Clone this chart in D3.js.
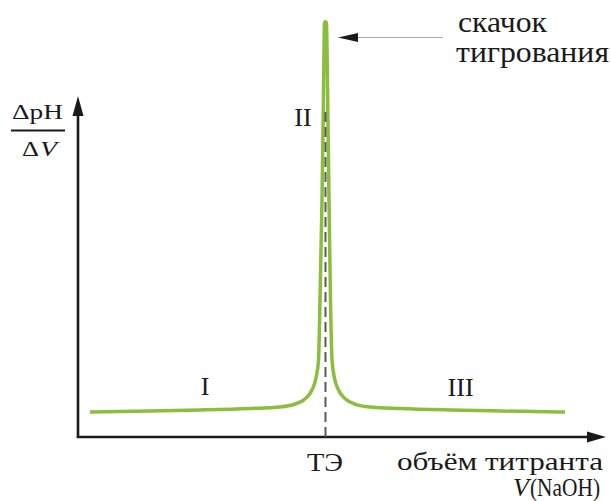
<!DOCTYPE html>
<html><head><meta charset="utf-8">
<script src="https://cdn.jsdelivr.net/npm/d3@7"></script>
<style>
html,body{margin:0;padding:0;background:#fff;}
svg{display:block;}
text{font-family:"Liberation Serif","Times New Roman",serif;fill:#1a1a1a;}
</style></head>
<body>
<svg id="c" width="611" height="501"></svg>
<script>
// titrant volume (arbitrary units) and ΔpH/ΔV (arbitrary units)
const volume = [2.28, 13.66, 23.15, 32.64, 38.33, 41.18, 43.07, 44.40, 45.16, 45.64, 45.92, 46.30, 46.57, 46.77, 46.96,
                47.15, 47.38, 47.63, 47.91, 48.20, 48.67, 49.43, 50.76, 52.56, 55.41, 61.10, 70.59, 80.08, 92.41];
const dpHdV  = [6.02, 6.27, 6.51, 6.87, 7.23, 7.95, 9.16, 11.33, 14.22, 18.55, 33.01, 57.11, 81.20, 99.76, 100.12,
                99.76, 81.20, 57.11, 33.01, 18.55, 14.22, 11.33, 9.16, 7.95, 7.23, 6.87, 6.51, 6.27, 6.02];
const equivalencePoint = 46.96;
const regionLabels = ["I", "II", "III"];
const regionX = [24.1, 42.7, 72.6];
const regionY = [10.1, 75.0, 9.9];
const yLabelTop = "ΔpH";
const yLabelBottom = ["Δ", "V"];
const xLabel1 = "объём титранта";
const xLabel2 = ["V", "(NaOH)"];
const epLabel = "ТЭ";
const jumpLabel = ["скачок", "тигрования"];

const svg = d3.select("#c");
const x = d3.scaleLinear().domain([0, 100]).range([78, 605]);
const y = d3.scaleLinear().domain([0, 100]).range([437, 22]);

// axes
const axisColor = "#1a1a1a";
svg.append("line").attr("x1", x(0) - 1.3).attr("x2", 592).attr("y1", y(0)).attr("y2", y(0))
  .attr("stroke", axisColor).attr("stroke-width", 2.6);
svg.append("path").attr("d", `M606,${y(0)} L587,${y(0)-5.5} L587,${y(0)+5.5} Z`).attr("fill", axisColor);
svg.append("line").attr("x1", x(0)).attr("x2", x(0)).attr("y1", y(0)).attr("y2", 110)
  .attr("stroke", axisColor).attr("stroke-width", 2.6);
svg.append("path").attr("d", `M${x(0)},96 L${x(0)-5.5},116 L${x(0)+5.5},116 Z`).attr("fill", axisColor);

// curve
const line = d3.line().x((d, i) => x(volume[i])).y(d => y(d)).curve(d3.curveMonotoneX);
svg.append("path").attr("d", line(dpHdV)).attr("fill", "none")
  .attr("stroke", "#8cbd3f").attr("stroke-width", 3.5).attr("stroke-linejoin", "round").attr("stroke-linecap", "butt");

// dashed equivalence line
svg.append("line").attr("x1", x(equivalencePoint)).attr("x2", x(equivalencePoint))
  .attr("y1", 112).attr("y2", y(0))
  .attr("stroke", "#5a5a5a").attr("stroke-width", 2).attr("stroke-dasharray", "10,5");

// annotation arrow
svg.append("line").attr("x1", 354).attr("x2", 443).attr("y1", 37.5).attr("y2", 37.5)
  .attr("stroke", "#aaa").attr("stroke-width", 1.2);
svg.append("path").attr("d", "M338,37.5 L358,33 L358,42 Z").attr("fill", "#1a1a1a");

function label(txt, px, py, size, len, anchor) {
  return svg.append("text").attr("x", px).attr("y", py).attr("font-size", size)
    .attr("text-anchor", anchor || "start")
    .attr("textLength", len).attr("lengthAdjust", "spacingAndGlyphs").text(txt);
}

label(jumpLabel[0], 458, 32, 29, 89);
label(jumpLabel[1], 456, 62, 29, 153);

regionLabels.forEach((t, i) => {
  svg.append("text").attr("x", x(regionX[i])).attr("y", y(regionY[i])).attr("font-size", 26)
    .attr("text-anchor", "middle").text(t);
});

label(yLabelTop, 12, 119, 22, 51);
svg.append("line").attr("x1", 11).attr("x2", 65).attr("y1", 130.5).attr("y2", 130.5).attr("stroke", "#1a1a1a").attr("stroke-width", 2);
label(yLabelBottom[0], 22, 156, 22, 17);
label(yLabelBottom[1], 40, 156, 22, 17).attr("font-style", "italic");

label(epLabel, 307, 471, 25, 36);
label(xLabel1, 397, 470, 26, 206);
label(xLabel2[0], 513, 496, 25, 16).attr("font-style", "italic");
label(xLabel2[1], 530, 496, 25, 70);
</script>
</body></html>
